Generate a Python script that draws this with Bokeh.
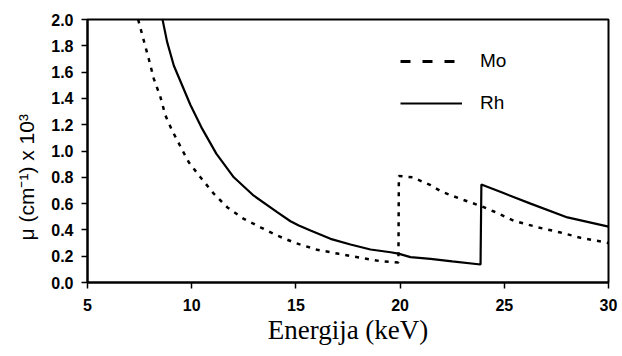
from bokeh.plotting import figure
from bokeh.models import Range1d, FixedTicker, NumeralTickFormatter, Legend, LegendItem, ColumnDataSource
from bokeh.embed import file_html
from bokeh.resources import INLINE

# Data
mo_energy = [7.43, 7.70, 7.94, 8.18, 8.5, 8.74, 9.06, 9.54, 9.86, 10.42, 11.06, 11.7, 12.5, 13.3, 14.1,
             14.98, 16.02, 17.06, 18.1, 19.06, 19.92,
             19.94, 20.6, 21.46, 22.0, 23.0, 23.9, 24.5, 25.45, 26.6, 27.7, 28.66, 29.7, 30.0]
mo_mu = [2.0, 1.84, 1.70, 1.55, 1.41, 1.27, 1.156, 1.01, 0.915, 0.80, 0.675, 0.573, 0.484, 0.42, 0.357,
         0.30, 0.249, 0.218, 0.188, 0.162, 0.152,
         0.81, 0.80, 0.74, 0.69, 0.63, 0.58, 0.54, 0.47, 0.42, 0.38, 0.34, 0.31, 0.30]

rh_energy = [8.6, 8.82, 9.14, 9.54, 9.94, 10.5, 11.18, 12.02, 12.98, 14.1, 14.74, 15.14, 15.7, 16.66,
             17.62, 18.58, 19.54, 19.92, 20.5, 21.46, 22.5, 23.86,
             23.9, 24.96, 26.26, 28.03, 30.0]
rh_mu = [2.0, 1.83, 1.65, 1.50, 1.35, 1.17, 0.98, 0.80, 0.66, 0.535, 0.466, 0.433, 0.395, 0.332,
         0.289, 0.251, 0.23, 0.22, 0.193, 0.18, 0.16, 0.137,
         0.745, 0.68, 0.60, 0.495, 0.425]

y_ticks = [0.0, 0.2, 0.4, 0.6, 0.8, 1.0, 1.2, 1.4, 1.6, 1.8, 2.0]
x_ticks = [5, 10, 15, 20, 25, 30]
series_names = ["Mo", "Rh"]

p = figure(width=622, height=356, output_backend="svg", toolbar_location=None,
           x_range=Range1d(5, 30), y_range=Range1d(0, 2.0),
           min_border_left=87, min_border_right=14, min_border_top=19, min_border_bottom=74)

p.xgrid.visible = False
p.ygrid.visible = False
p.outline_line_color = "black"
p.outline_line_width = 2
p.background_fill_color = "white"
p.border_fill_color = "white"

p.line(mo_energy, mo_mu, line_color="black", line_width=2.5, line_dash="4 6")
p.line(rh_energy, rh_mu, line_color="black", line_width=2.2)

# legend-only renderers (no visible data) carrying the legend styles
nan = float("nan")
dummy = ColumnDataSource(data=dict(x=[nan], y=[nan]))
r_mo = p.line("x", "y", source=dummy, line_color="black", line_width=3, line_dash="10 12")
r_rh = p.line("x", "y", source=dummy, line_color="black", line_width=2)

legend = Legend(items=[LegendItem(label=series_names[0], renderers=[r_mo]),
                       LegendItem(label=series_names[1], renderers=[r_rh])],
                location=(313, 168), padding=0, margin=0, spacing=20,
                glyph_width=62, glyph_height=20, label_height=20, label_standoff=18,
                border_line_color=None, background_fill_alpha=0,
                label_text_font="Liberation Sans", label_text_font_size="19px",
                label_text_color="black")
p.add_layout(legend, "center")

for ax in (p.xaxis, p.yaxis):
    ax.axis_line_color = "black"
    ax.axis_line_width = 2
    ax.major_tick_line_color = "black"
    ax.major_tick_line_width = 1.5
    ax.major_tick_out = 6
    ax.major_tick_in = 0
    ax.minor_tick_line_color = None
    ax.major_label_text_font = "Liberation Sans"
    ax.major_label_text_font_style = "bold"
    ax.major_label_text_font_size = "16px"
    ax.major_label_text_color = "black"
    ax.axis_label_text_color = "black"

p.xaxis.ticker = FixedTicker(ticks=x_ticks)
p.yaxis.ticker = FixedTicker(ticks=y_ticks)
p.yaxis.formatter = NumeralTickFormatter(format="0.0")
p.xaxis.major_label_standoff = 10
p.yaxis.major_label_standoff = 8

p.xaxis.axis_label = "Energija (keV)"
p.xaxis.axis_label_text_font = "Liberation Serif"
p.xaxis.axis_label_text_font_style = "normal"
p.xaxis.axis_label_text_font_size = "27px"
p.xaxis.axis_label_standoff = 1

p.yaxis.axis_label = "μ (cm⁻¹) x 10³" + "\u00a0" * 9
p.yaxis.axis_label_text_font = "Liberation Sans"
p.yaxis.axis_label_text_font_style = "normal"
p.yaxis.axis_label_text_font_size = "21px"
p.yaxis.axis_label_standoff = 10

open("out.html", "w").write(file_html(p, INLINE))
